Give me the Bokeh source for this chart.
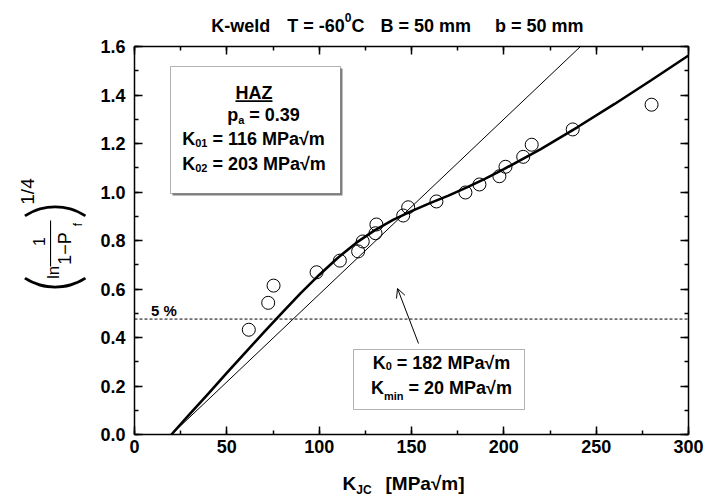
import math
from bokeh.plotting import figure
from bokeh.models import (Label, BoxAnnotation, Arrow, OpenHead, LinearAxis,
                          SingleIntervalTicker, PrintfTickFormatter, Range1d)
from bokeh.embed import file_html
from bokeh.resources import INLINE

# ---------------- data ----------------
k_obs = [61.9, 72.4, 75.3, 98.6, 111.2, 121.1, 123.6, 130.5, 131.0, 145.5,
         148.2, 163.5, 179.2, 186.8, 197.6, 200.9, 210.5, 215.1, 237.3, 280.0]
y_obs = [0.432, 0.543, 0.614, 0.669, 0.717, 0.755, 0.796, 0.830, 0.866, 0.903,
         0.937, 0.961, 0.998, 1.031, 1.065, 1.104, 1.145, 1.195, 1.258, 1.360]

# bimodal fit curve (thick line)
k_fit = [20, 30, 40, 50, 60, 70, 80, 90, 100, 110, 120, 130, 140, 150, 160,
         170, 180, 190, 200, 220, 240, 260, 280, 300]
y_fit = [0.0, 0.085, 0.169, 0.254, 0.338, 0.421, 0.503, 0.583, 0.658, 0.728,
         0.790, 0.842, 0.885, 0.921, 0.954, 0.985, 1.019, 1.055, 1.094, 1.177,
         1.268, 1.363, 1.462, 1.563]

# unimodal master curve (thin line)
k_line = [20.0, 241.5]
y_line = [0.0, 1.6]

five_pct = 0.476

x_ticks_step = 50
y_ticks_step = 0.2

# ---------------- geometry ----------------
W, H = 708, 502
FL, FR, FT, FB = 134, 688, 46, 434   # plotting area in canvas pixels
XMAX, YMAX = 300, 1.6


def dx(X):
    return (X - FL) * XMAX / (FR - FL)


def dy(Y):
    return (FB - Y) * YMAX / (FB - FT)


p = figure(x_range=Range1d(dx(0), dx(W)), y_range=Range1d(dy(H), dy(0)),
           width=W, height=H, min_border=0,
           min_border_left=0, min_border_right=0, min_border_top=0, min_border_bottom=0,
           x_axis_location=None, y_axis_location=None,
           output_backend="svg", toolbar_location=None,
           background_fill_color="white", border_fill_color="white")
p.xgrid.visible = False
p.ygrid.visible = False
p.outline_line_color = None


def make_axis(loc, fixed, bounds, step, show_labels, standoff=6, fmt=None):
    ax = LinearAxis(fixed_location=fixed, bounds=bounds,
                    ticker=SingleIntervalTicker(interval=step, num_minor_ticks=2))
    ax.axis_line_color = "black"
    ax.axis_line_width = 1.5
    ax.major_tick_in = 8
    ax.major_tick_out = 0
    ax.minor_tick_in = 4
    ax.minor_tick_out = 0
    ax.major_tick_line_width = 1.5
    ax.minor_tick_line_width = 1.5
    ax.major_tick_line_color = "black"
    ax.minor_tick_line_color = "black"
    if fmt is not None:
        ax.formatter = fmt
    if show_labels:
        ax.major_label_text_font = "Liberation Sans"
        ax.major_label_text_font_style = "bold"
        ax.major_label_text_font_size = "18px"
        ax.major_label_text_color = "black"
        ax.major_label_standoff = standoff
    else:
        ax.major_label_text_color = None
        ax.major_label_text_font_size = "0px"
        ax.major_label_standoff = 0
    p.add_layout(ax, loc)
    return ax


make_axis("below", 0, (0, XMAX), x_ticks_step, True, 5)
make_axis("left", 0, (0, YMAX), y_ticks_step, True, 9, PrintfTickFormatter(format="%.1f"))
make_axis("above", YMAX, (0, XMAX), x_ticks_step, False)
make_axis("right", XMAX, (0, YMAX), y_ticks_step, False)

# ---------------- glyphs ----------------
p.line([0, XMAX], [five_pct, five_pct], line_color="black", line_width=1, line_dash="3 2")
p.line(k_line, y_line, line_color="black", line_width=1)
p.line(k_fit, y_fit, line_color="black", line_width=2.6)
p.scatter(k_obs, y_obs, marker="circle", size=13, fill_color=None,
          line_color="black", line_width=1)

# ---------------- text helpers ----------------
BOLD = {' ': 278, '-': 333, '.': 278, '=': 584, '[': 333, ']': 333, '%': 889,
        'A': 722, 'B': 722, 'C': 722, 'H': 722, 'J': 556, 'K': 722, 'M': 833,
        'P': 667, 'T': 611, 'Z': 611, 'a': 556, 'b': 611, 'd': 611, 'e': 556,
        'i': 278, 'l': 278, 'm': 889, 'n': 611, 'p': 611, 'w': 778, '\u221a': 549}
BC = 5  # baseline correction
THIN = "Lato Light, Roboto Light, Liberation Sans"


def tw(s, size):
    return sum(BOLD.get(c, 556) for c in s) / 1000.0 * size


def put(text, X, Y, size, style="bold", align="left", baseline="alphabetic", angle=0.0,
        font="Liberation Sans"):
    if baseline == "alphabetic":
        Y = Y - BC
    p.add_layout(Label(x=dx(X), y=dy(Y), text=text, text_font=font,
                       text_font_size=f"{size}px", text_font_style=style,
                       text_color="black", text_align=align, text_baseline=baseline,
                       angle=angle))


def line_text(segs, base, cx=None, left=None):
    total = sum(tw(t, s) for t, s, _ in segs)
    x = left if left is not None else cx - total / 2.0
    for t, s, d in segs:
        lead = len(t) - len(t.lstrip(' '))
        put(t.strip(), x + tw(' ' * lead, s), base + d, s)
        x += tw(t, s)


# title
put("K-weld", 210.7, 30, 18)
line_text([("T = -60", 18, 0), ("0", 12, -8), ("C", 18, 0)], 30, left=286.7)
put("B = 50 mm", 380, 30, 18)
put("b = 50 mm", 583, 30, 18, align="right")

# x axis label
line_text([("K", 19, 0), ("JC", 12, 6)], 488, left=342)
put("[MPa\u221am]", 385, 488, 19)

# y axis label (rotated math expression)
R = math.pi / 2
put("(", 50, 283, 68, style="normal", align="center", baseline="middle", angle=R, font=THIN)
put(")", 50, 210, 68, style="normal", align="center", baseline="middle", angle=R, font=THIN)
put("1/4", 26.5, 191, 19, style="normal", align="center", baseline="middle", angle=R)
put("ln", 53, 272, 17, style="normal", align="center", baseline="middle", angle=R)
put("1", 38, 241, 16, style="normal", align="center", baseline="middle", angle=R)
put("1\u2212P", 64, 248, 18, style="normal", align="center", baseline="middle", angle=R)
put("f", 77, 224, 12, style="normal", align="center", baseline="middle", angle=R)
p.add_layout(BoxAnnotation(left=dx(49.5), right=dx(50.6), top=dy(220), bottom=dy(266),
                           fill_color="black", fill_alpha=1, line_color=None))

# top info box (with shadow)
p.add_layout(BoxAnnotation(left=dx(172), right=dx(342), top=dy(68), bottom=dy(195),
                           fill_color="#7f7f7f", fill_alpha=1, line_color=None))
p.add_layout(BoxAnnotation(left=dx(170), right=dx(340), top=dy(66), bottom=dy(193),
                           fill_color="white", fill_alpha=1, line_color="black",
                           line_width=1))
haz_w = tw("HAZ", 18)
put("HAZ", 253.5 - haz_w / 2, 97.5, 18)
p.add_layout(BoxAnnotation(left=dx(253.5 - haz_w / 2), right=dx(253.5 + haz_w / 2),
                           top=dy(99.8), bottom=dy(101.4), fill_color="black",
                           fill_alpha=1, line_color=None))
line_text([("p", 18, 0), ("a", 11, 5), (" = 0.39", 18, 0)], 119.5, cx=263)
line_text([("K", 18, 0), ("01", 11, 4), (" = 116 MPa\u221am", 18, 0)], 143.5, cx=253.5)
line_text([("K", 18, 0), ("02", 11, 4), (" = 203 MPa\u221am", 18, 0)], 168.5, cx=253.5)

# bottom box
p.add_layout(BoxAnnotation(left=dx(353), right=dx(524), top=dy(349), bottom=dy(409),
                           fill_color="white", fill_alpha=1, line_color="black",
                           line_width=1))
line_text([("K", 18, 0), ("0", 11, 3), (" = 182 MPa\u221am", 18, 0)], 367, cx=441)
line_text([("K", 18, 0), ("min", 11, 8), (" = 20 MPa\u221am", 18, 0)], 392, cx=441)

# arrow
p.add_layout(Arrow(end=OpenHead(size=9, line_width=1, line_color="black"),
                   x_start=dx(418), y_start=dy(343), x_end=dx(397), y_end=dy(288),
                   line_width=1, line_color="black"))

# 5 % label
put("5 %", 163.5, 315, 15, align="center")

open("out.html", "w").write(file_html(p, INLINE))
